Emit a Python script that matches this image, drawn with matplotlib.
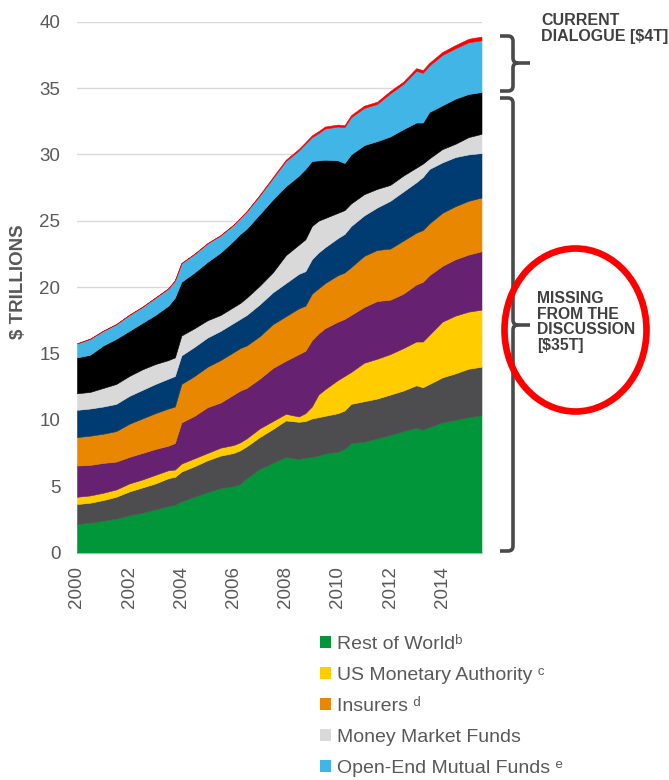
import numpy as np
import matplotlib
matplotlib.use("Agg")
import matplotlib.pyplot as plt
from matplotlib.patches import Patch, Ellipse, PathPatch
from matplotlib.path import Path
from matplotlib.transforms import Affine2D

plt.rcParams['font.family'] = ['Liberation Sans', 'DejaVu Sans']

# ---------------- data (cumulative levels reached by each layer, $ trillions) -------------
years = [2000, 2000.5, 2001, 2001.5, 2002, 2002.5, 2003, 2003.5, 2003.75, 2004,
         2004.5, 2005, 2005.5, 2006, 2006.25, 2006.5, 2007, 2007.5, 2008, 2008.5,
         2008.75, 2009, 2009.25, 2009.5, 2010, 2010.25, 2010.5, 2011, 2011.5, 2012,
         2012.5, 2013, 2013.25, 2013.5, 2014, 2014.5, 2015, 2015.5]

rest_of_world_cum = [2.15, 2.25, 2.4, 2.55, 2.8, 3.0, 3.25, 3.5, 3.6, 3.85,
                     4.2, 4.55, 4.85, 5.0, 5.15, 5.6, 6.3, 6.75, 7.2, 7.05,
                     7.15, 7.2, 7.3, 7.45, 7.6, 7.8, 8.25, 8.35, 8.6, 8.85,
                     9.15, 9.4, 9.25, 9.45, 9.8, 10.0, 10.2, 10.35]
dark_gray_cum = [3.65, 3.75, 3.95, 4.2, 4.6, 4.9, 5.2, 5.6, 5.7, 6.1,
                 6.5, 6.95, 7.3, 7.5, 7.7, 8.0, 8.7, 9.3, 9.95, 9.85,
                 9.9, 10.1, 10.2, 10.3, 10.5, 10.7, 11.2, 11.4, 11.6, 11.9,
                 12.2, 12.6, 12.45, 12.7, 13.2, 13.5, 13.85, 14.0]
us_monetary_cum = [4.2, 4.3, 4.5, 4.75, 5.2, 5.5, 5.85, 6.2, 6.25, 6.7,
                   7.1, 7.5, 7.9, 8.1, 8.3, 8.6, 9.35, 9.9, 10.45, 10.25,
                   10.5, 11.0, 11.9, 12.3, 13.0, 13.3, 13.6, 14.3, 14.6, 14.95,
                   15.4, 15.9, 15.9, 16.4, 17.4, 17.85, 18.15, 18.3]
purple_cum = [6.55, 6.6, 6.75, 6.85, 7.2, 7.5, 7.8, 8.05, 8.25, 9.8,
              10.3, 10.95, 11.3, 11.9, 12.2, 12.4, 13.1, 13.9, 14.45, 14.95,
              15.2, 16.0, 16.5, 16.9, 17.4, 17.6, 17.9, 18.5, 18.95, 19.05,
              19.5, 20.2, 20.4, 20.9, 21.6, 22.1, 22.45, 22.7]
insurers_cum = [8.7, 8.8, 8.95, 9.15, 9.7, 10.1, 10.5, 10.85, 11.0, 12.7,
                13.3, 14.0, 14.5, 15.1, 15.4, 15.6, 16.3, 17.2, 17.8, 18.4,
                18.6, 19.5, 19.9, 20.3, 20.9, 21.1, 21.5, 22.35, 22.8, 22.9,
                23.5, 24.1, 24.3, 24.8, 25.6, 26.1, 26.5, 26.75]
navy_cum = [10.75, 10.85, 11.0, 11.2, 11.8, 12.25, 12.7, 13.1, 13.3, 14.85,
            15.5, 16.2, 16.7, 17.3, 17.6, 17.9, 18.7, 19.6, 20.3, 21.0,
            21.2, 22.1, 22.6, 23.0, 23.7, 24.0, 24.6, 25.4, 26.0, 26.5,
            27.2, 27.9, 28.3, 28.9, 29.4, 29.8, 30.0, 30.1]
money_market_cum = [12.0, 12.1, 12.4, 12.7, 13.3, 13.8, 14.2, 14.5, 14.7, 16.35,
                    16.9, 17.5, 17.9, 18.5, 18.8, 19.2, 20.1, 21.1, 22.4, 23.2,
                    23.6, 24.6, 25.0, 25.2, 25.6, 25.8, 26.3, 27.0, 27.4, 27.7,
                    28.4, 29.0, 29.3, 29.7, 30.4, 30.8, 31.3, 31.55]
black_cum = [14.7, 14.9, 15.6, 16.1, 16.7, 17.3, 17.9, 18.6, 19.2, 20.4,
             21.1, 21.9, 22.6, 23.5, 24.0, 24.4, 25.5, 26.6, 27.6, 28.4,
             28.9, 29.5, 29.55, 29.6, 29.55, 29.35, 30.0, 30.7, 31.0, 31.35,
             31.9, 32.4, 32.4, 33.2, 33.7, 34.2, 34.55, 34.7]
open_end_mf_cum = [15.75, 16.1, 16.7, 17.2, 17.9, 18.5, 19.2, 19.9, 20.5, 21.8,
                   22.5, 23.3, 23.9, 24.7, 25.2, 25.7, 26.9, 28.2, 29.5, 30.3,
                   30.8, 31.3, 31.6, 31.95, 32.1, 32.05, 32.8, 33.5, 33.8, 34.6,
                   35.3, 36.3, 36.15, 36.7, 37.5, 38.0, 38.45, 38.6]
# thin top layer (own values, not cumulative)
red_layer = [0.02] * 16 + [0.06, 0.08, 0.1, 0.12, 0.12, 0.14, 0.15, 0.15, 0.15, 0.15,
                           0.16, 0.17, 0.17, 0.18, 0.18, 0.2, 0.2, 0.2, 0.22, 0.24,
                           0.26, 0.28]

levels = [rest_of_world_cum, dark_gray_cum, us_monetary_cum, purple_cum, insurers_cum,
          navy_cum, money_market_cum, black_cum, open_end_mf_cum]
colors = ['#009639', '#4d4d4f', '#ffcc00', '#662170', '#e98700',
          '#003b71', '#d9d9d9', '#000000', '#41b6e6', '#ff0000']

legend_labels = ['Rest of World\u1d47', 'US Monetary Authority \u1d9c',
                 'Insurers \u1d48', 'Money Market Funds',
                 'Open-End Mutual Funds \u1d49']
legend_colors = ['#009639', '#ffcc00', '#e98700', '#d9d9d9', '#41b6e6']

# --------------------------------------------------------------------------------------
W, H = 669, 780
fig = plt.figure(figsize=(W / 100, H / 100), dpi=100)
ax = fig.add_axes([77 / W, 1 - 552.5 / H, (481.5 - 77) / W, (552.5 - 21.7) / H])

x = np.array(years)
lv = np.array(levels)
layers = [lv[0]] + [lv[i] - lv[i - 1] for i in range(1, len(lv))] + [np.array(red_layer)]
polys = ax.stackplot(x, *layers, colors=colors, linewidth=0.4, zorder=3)
for p, c in zip(polys, colors):
    p.set_edgecolor(c)

ax.set_xlim(2000, 2015.5)
ax.set_ylim(0, 40)
ax.set_yticks(range(0, 41, 5))
ax.set_xticks(range(2000, 2015, 2))
ax.grid(axis='y', color='#d9d9d9', linewidth=1.0, zorder=0)
ax.set_axisbelow(True)
for s in ['top', 'left', 'right']:
    ax.spines[s].set_visible(False)
ax.spines['bottom'].set_color('#d9d9d9')
ax.tick_params(axis='y', length=0, pad=12, labelsize=13.5, labelcolor='#595959')
ax.tick_params(axis='x', length=0, pad=10, labelsize=13.5, labelcolor='#595959',
               labelrotation=90)

fig.text(19 / W, 1 - 282 / H, r'\$ TRILLIONS', rotation=90, ha='center', va='center',
         fontsize=13.5, fontweight='bold', color='#595959')

# ---------------- annotations (pixel coordinates, origin top-left) ---------------------
pix = Affine2D().scale(1, -1).translate(0, H)


def brace(x_left, x_line, x_tip, y_top, y_mid, y_bot, r=5):
    verts = [(x_left, y_top), (x_line - r, y_top), (x_line, y_top), (x_line, y_top + r),
             (x_line, y_mid - r), (x_line, y_mid), (x_line + r, y_mid), (x_tip, y_mid),
             (x_line + r, y_mid), (x_line, y_mid), (x_line, y_mid + r),
             (x_line, y_bot - r), (x_line, y_bot), (x_line - r, y_bot), (x_left, y_bot)]
    codes = [Path.MOVETO, Path.LINETO, Path.CURVE3, Path.CURVE3,
             Path.LINETO, Path.CURVE3, Path.CURVE3, Path.LINETO,
             Path.MOVETO, Path.CURVE3, Path.CURVE3,
             Path.LINETO, Path.CURVE3, Path.CURVE3, Path.LINETO]
    fig.add_artist(PathPatch(Path(verts, codes), transform=pix, fill=False,
                             edgecolor='#4a4a4a', linewidth=2.6, capstyle='butt'))


brace(500, 513, 530, 36, 63, 91)
brace(500, 513, 530, 98, 325, 551)

fig.add_artist(Ellipse((575.5, 330), 142, 163, transform=pix, fill=False,
                       edgecolor='#ff0000', linewidth=4.8))

fig.text(541 / W, 1 - 13 / H, 'CURRENT\nDIALOGUE [\\$4T]', ha='left', va='top',
         fontsize=11.5, fontweight='bold', color='#404040', linespacing=1.05)
fig.text(537 / W, 1 - 291 / H, 'MISSING\nFROM THE\nDISCUSSION\n[\\$35T]', ha='left',
         va='top', fontsize=11.3, fontweight='bold', color='#404040', linespacing=1.05)

# ---------------- legend ------------------------------------------------------------
handles = [Patch(facecolor=c, edgecolor='none') for c in legend_colors]
leg = fig.legend(handles, legend_labels, loc='upper left',
                 bbox_to_anchor=(320 / W, 1 - 636 / H), frameon=False, fontsize=14,
                 handlelength=0.55, handleheight=0.55, handletextpad=0.3,
                 labelspacing=0.72, borderaxespad=0, borderpad=0)
for t in leg.get_texts():
    t.set_color('#595959')

fig.savefig('out.png', dpi=100)
